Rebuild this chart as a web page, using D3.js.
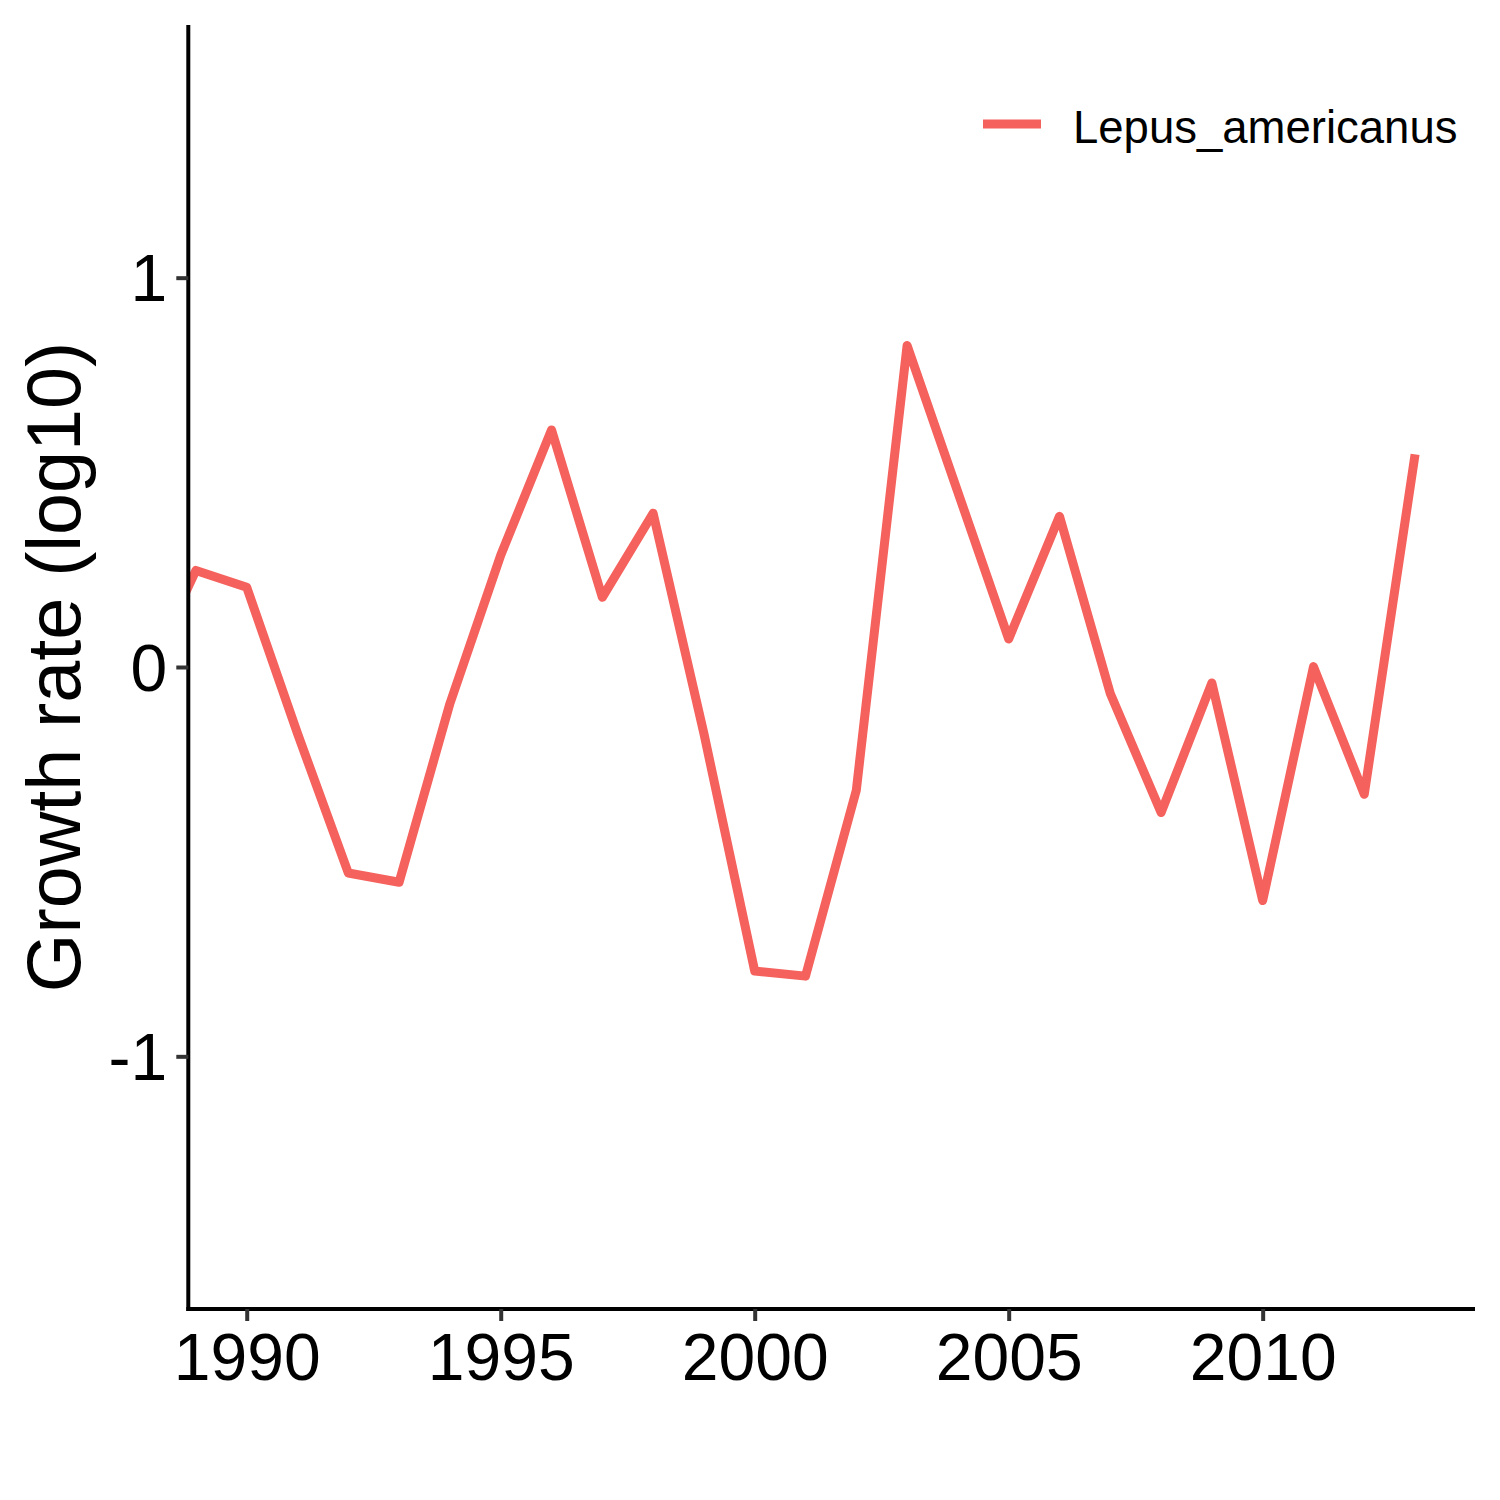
<!DOCTYPE html>
<html>
<head>
<meta charset="utf-8">
<script src="https://cdn.jsdelivr.net/npm/d3@7"></script>
<style>
  html, body { margin: 0; padding: 0; background: #ffffff; }
  svg { display: block; }
  text { font-family: "Liberation Sans", Arial, Helvetica, sans-serif; fill: #000; }
</style>
</head>
<body>
<svg id="chart" width="1500" height="1500"></svg>
<script>
// ---- data ----
const years = [1988, 1989, 1990, 1991, 1992, 1993, 1994, 1995, 1996, 1997, 1998, 1999, 2000,
               2001, 2002, 2003, 2004, 2005, 2006, 2007, 2008, 2009, 2010, 2011, 2012, 2013];
const growth = [-0.03, 0.248, 0.205, -0.171, -0.529, -0.553, -0.094, 0.287, 0.609, 0.179, 0.395,
                -0.171, -0.781, -0.794, -0.317, 0.826, 0.449, 0.072, 0.387, -0.068, -0.374,
                -0.041, -0.600, 0.001, -0.327, 0.546];
const seriesName = "Lepus_americanus";
const xTicks = [1990, 1995, 2000, 2005, 2010];
const yTicks = [-1, 0, 1];
const yTitle = "Growth rate (log10)";

// ---- layout ----
const pLeft = 188.3, pRight = 1474, pTop = 25, pBottom = 1309;
const lineColor = "#F5615C";

const svg = d3.select("#chart");

const x = d3.scaleLinear().domain([1988.85, 2014.16]).range([pLeft, pRight]);
const y = d3.scaleLinear().domain([-1.649, 1.649]).range([pBottom, pTop]);

// clip for panel
svg.append("defs").append("clipPath").attr("id", "panel")
  .append("rect").attr("x", pLeft).attr("y", pTop)
  .attr("width", pRight - pLeft).attr("height", pBottom - pTop);

const data = years.map((yr, i) => ({ year: yr, value: growth[i] }));

const line = d3.line().x(d => x(d.year)).y(d => y(d.value));

svg.append("path")
  .datum(data)
  .attr("clip-path", "url(#panel)")
  .attr("d", line)
  .attr("fill", "none")
  .attr("stroke", lineColor)
  .attr("stroke-width", 9)
  .attr("stroke-linejoin", "round")
  .attr("stroke-linecap", "butt");

// x axis
const xAxis = d3.axisBottom(x).tickValues(xTicks).tickFormat(d3.format("d"))
  .tickSize(12).tickPadding(12).tickSizeOuter(0);
const gx = svg.append("g").attr("transform", `translate(0,${pBottom})`).call(xAxis);
gx.select(".domain").attr("stroke", "#000").attr("stroke-width", 4)
  .attr("d", `M${pLeft - 2},0H${pRight + 1}`);
gx.selectAll(".tick line").attr("stroke", "#333").attr("stroke-width", 4);
gx.selectAll(".tick text").attr("font-size", 66).attr("fill", "#000")
  .attr("font-family", '"Liberation Sans", Arial, sans-serif');

// y axis
const yAxis = d3.axisLeft(y).tickValues(yTicks).tickFormat(d => String(d))
  .tickSize(12).tickPadding(9).tickSizeOuter(0);
const gy = svg.append("g").attr("transform", `translate(${pLeft},0)`).call(yAxis);
gy.select(".domain").attr("stroke", "#000").attr("stroke-width", 4)
  .attr("d", `M0,${pTop}V${pBottom + 2}`);
gy.selectAll(".tick line").attr("stroke", "#333").attr("stroke-width", 4);
gy.selectAll(".tick text").attr("font-size", 66).attr("fill", "#000").attr("dy", "0.35em")
  .attr("font-family", '"Liberation Sans", Arial, sans-serif');

// y title
svg.append("text")
  .attr("transform", `translate(80,${(pTop + pBottom) / 2}) rotate(-90)`)
  .attr("text-anchor", "middle")
  .attr("font-size", 75.5)
  .text(yTitle);

// legend
const lg = svg.append("g");
lg.append("line")
  .attr("x1", 983).attr("x2", 1041).attr("y1", 124).attr("y2", 124)
  .attr("stroke", lineColor).attr("stroke-width", 9);
lg.append("text")
  .attr("x", 1073).attr("y", 143)
  .attr("font-size", 45.5)
  .text(seriesName);
</script>
</body>
</html>
